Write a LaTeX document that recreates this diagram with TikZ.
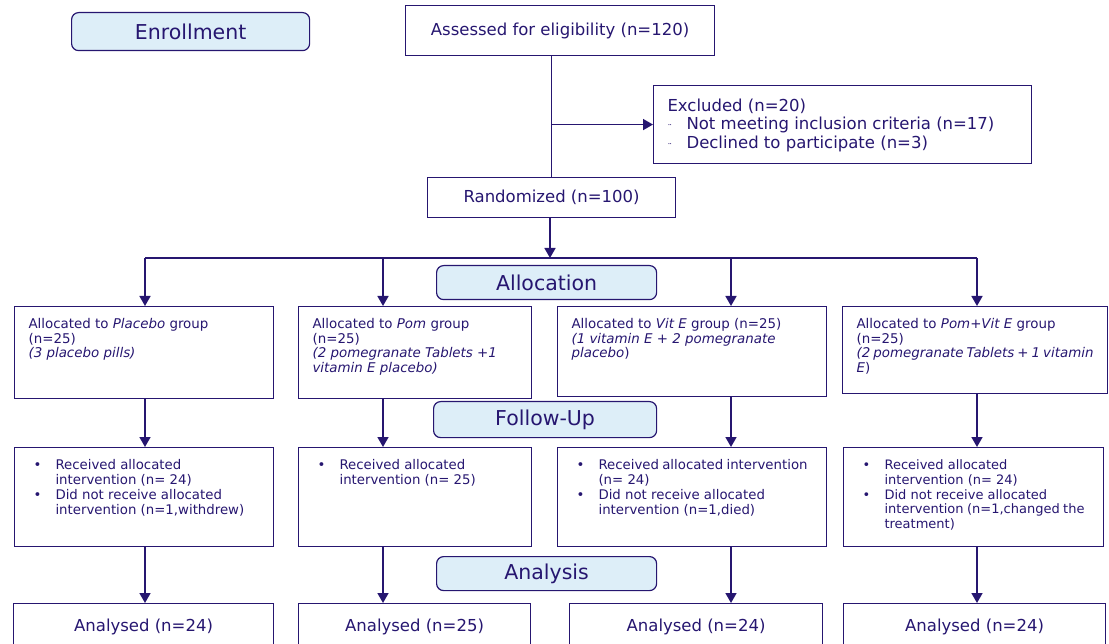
\documentclass[tikz,border=0pt]{standalone}
\usepackage{fontspec}
\setmainfont{DejaVu Sans}
\definecolor{flowNavy}{RGB}{38, 22, 112}
\definecolor{flowSky}{RGB}{221, 238, 248}
\usetikzlibrary{arrows.meta, positioning}

% text block of fixed size inside a box
\newcommand{\cellText}[3]{\parbox[c][#2][t]{#1}{#3}}
\newcommand{\bul}{\makebox[22pt][l]{\textbullet}}
\newcommand{\ind}{\hspace*{22pt}}
\newcommand{\dbul}{\makebox[19pt][l]{\raisebox{-2pt}{\small ¨}}}
\newcommand{\dind}{\hspace*{19pt}}

\begin{document}
\begin{tikzpicture}[x=1pt, y=-1pt,
  stage/.style={rectangle, rounded corners=7pt, draw=flowNavy, fill=flowSky,
                line width=1.2pt, text=flowNavy, anchor=north west, inner sep=0pt,
                font=\fontsize{20.5}{23}\selectfont},
  cell/.style={rectangle, draw=flowNavy, line width=1.1pt, text=flowNavy,
               anchor=north west, inner sep=0pt,
               font=\fontsize{16.5}{18}\selectfont},
  group/.style={rectangle, draw=flowNavy, line width=1.1pt, text=flowNavy,
                anchor=north west, inner xsep=14pt, inner ysep=12pt, align=left,
                font=\fontsize{13.4}{14.6}\selectfont},
  line/.style={flowNavy, line width=1.7pt},
  link/.style={-{Triangle[length=10pt, width=11pt]}, flowNavy, line width=1.7pt},
]
  \useasboundingbox (0,0) rectangle (1109,644);

  % phase labels
  \node[stage, minimum width=238pt, minimum height=38pt] (enrol) at (71,12) {Enrollment};
  \node[stage, minimum width=220pt, minimum height=34pt] (alloc) at (436,265) {Allocation};
  \node[stage, minimum width=223pt, minimum height=36pt] (follow) at (433,401) {Follow-Up};
  \node[stage, minimum width=220pt, minimum height=34pt] (analy) at (436,556) {Analysis};

  % enrollment
  \node[cell, minimum width=309pt, minimum height=50pt] (assess) at (405,5) {Assessed for eligibility (n=120)};
  \node[cell, inner xsep=14pt, inner ysep=13pt, align=left] (excl) at (653,85)
    {\cellText{350pt}{52pt}{\fontsize{16.5}{18.5}\selectfont Excluded (n=20)\\
      \dbul Not meeting inclusion criteria (n=17)\\
      \dbul Declined to participate (n=3)}};
  \node[cell, minimum width=248pt, minimum height=40pt] (rand) at (427,177) {Randomized (n=100)};

  % allocation
  \node[group] (al1) at (14,306) {\cellText{231pt}{68pt}{Allocated to \textit{Placebo} group\\
    (n=25)\\\textit{(3 placebo pills)}}};
  \node[group] (al2) at (298,306) {\cellText{205pt}{68pt}{Allocated to \textit{Pom} group\\
    (n=25)\\\textit{(2 pomegranate Tablets +1}\\\textit{vitamin E placebo)}}};
  \node[group] (al3) at (557,306) {\cellText{241pt}{66pt}{Allocated to \textit{Vit E} group (n=25)\\
    \textit{(1 vitamin E + 2 pomegranate}\\\textit{placebo})}};
  \node[group] (al4) at (842,306) {\cellText{237pt}{63pt}{Allocated to \textit{Pom+Vit E} group\\
    (n=25)\\\textit{(2 pomegranate Tablets + 1 vitamin}\\\textit{E})}};

  % follow-up
  \node[group, inner xsep=19pt, font=\fontsize{13.3}{14.8}\selectfont] (fu1) at (14,447)
    {\cellText{221pt}{75pt}{\bul Received allocated\\
    \ind intervention (n= 24)\\\bul Did not receive allocated\\\ind intervention (n=1,withdrew)}};
  \node[group, inner xsep=19pt, font=\fontsize{13.3}{14.8}\selectfont] (fu2) at (298,447)
    {\cellText{195pt}{75pt}{\bul Received allocated\\
    \ind intervention (n= 25)}};
  \node[group, inner xsep=19pt, font=\fontsize{13.3}{14.8}\selectfont] (fu3) at (557,447)
    {\cellText{231pt}{75pt}{\bul Received allocated intervention\\
    \ind (n= 24)\\\bul Did not receive allocated\\\ind intervention (n=1,died)}};
  \node[group, inner xsep=19pt, font=\fontsize{13}{14.8}\selectfont] (fu4) at (843,447)
    {\cellText{222pt}{75pt}{\bul Received allocated\\
    \ind intervention (n= 24)\\\bul Did not receive allocated\\
    \ind intervention (n=1,changed the\\\ind treatment)}};

  % analysis
  \node[cell, minimum width=260pt, minimum height=46pt] (an1) at (13,603) {Analysed (n=24)};
  \node[cell, minimum width=232pt, minimum height=46pt] (an2) at (298,603) {Analysed (n=25)};
  \node[cell, minimum width=253pt, minimum height=46pt] (an3) at (569,603) {Analysed (n=24)};
  \node[cell, minimum width=262pt, minimum height=46pt] (an4) at (843,603) {Analysed (n=24)};

  % columns of the arms and the split line
  \coordinate (colA) at (145,0);
  \coordinate (colB) at (383,0);
  \coordinate (colC) at (731,0);
  \coordinate (colD) at (977,0);
  \coordinate (bus) at (550,258);

  \draw[line] (assess.south -| rand.north) -- (rand.north);
  \draw[link] (excl.west -| rand.north) -- (excl.west);
  \draw[link] (rand.south -| bus) -- (bus);
  \draw[line, line width=1.1pt] (bus -| colA) -- (bus -| colD);

  \draw[link] (bus -| colA) -- (al1.north -| colA);
  \draw[link] (bus -| colB) -- (al2.north -| colB);
  \draw[link] (bus -| colC) -- (al3.north -| colC);
  \draw[link] (bus -| colD) -- (al4.north -| colD);

  \draw[link] (al1.south -| colA) -- (fu1.north -| colA);
  \draw[link] (al2.south -| colB) -- (fu2.north -| colB);
  \draw[link] (al3.south -| colC) -- (fu3.north -| colC);
  \draw[link] (al4.south -| colD) -- (fu4.north -| colD);

  \draw[link] (fu1.south -| colA) -- (an1.north -| colA);
  \draw[link] (fu2.south -| colB) -- (an2.north -| colB);
  \draw[link] (fu3.south -| colC) -- (an3.north -| colC);
  \draw[link] (fu4.south -| colD) -- (an4.north -| colD);
\end{tikzpicture}
\end{document}
